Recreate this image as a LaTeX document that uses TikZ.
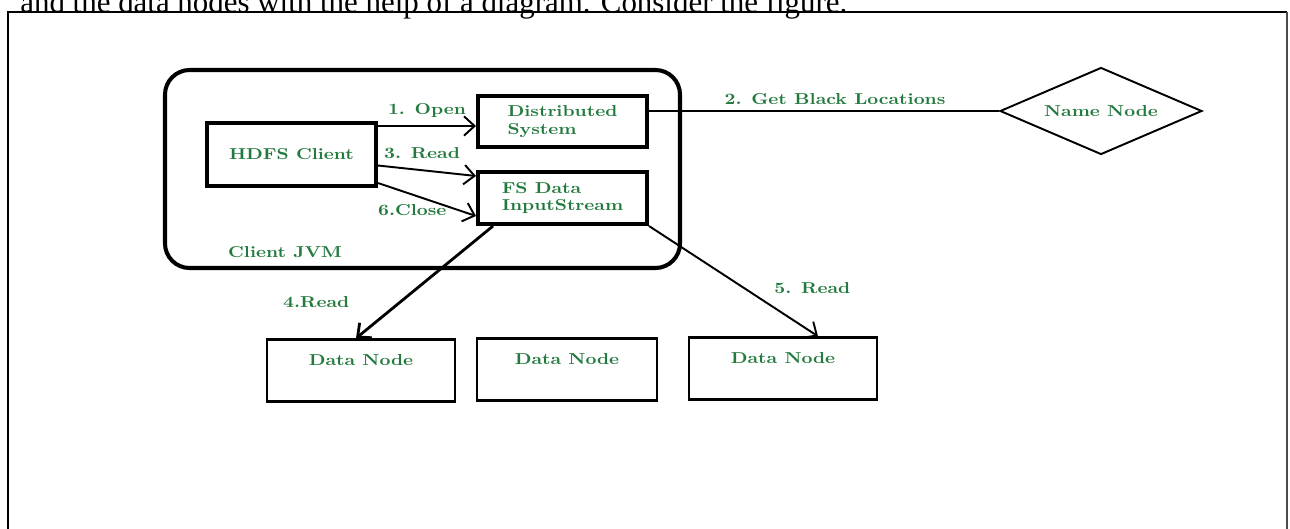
\documentclass[tikz,border=0pt]{standalone}
\usepackage{fontspec}
\setmainfont{Liberation Serif}
\newfontfamily\diafont[FakeStretch=1.2]{lmroman10-bold.otf}
\usepackage{tikz}
\usetikzlibrary{calc}
\usetikzlibrary{shapes.geometric}
\usetikzlibrary{arrows.meta}
\definecolor{labgreen}{RGB}{35,122,62}
\tikzset{
  lbl/.style={text=labgreen, font=\diafont\fontsize{9}{10}\selectfont, inner sep=1pt},
  thickbox/.style={draw, line width=2.3pt, lbl, align=left, minimum width=3.38cm},
  databox/.style={draw, line width=1.4pt, lbl, minimum height=1.24cm, text height=6pt, text depth=12pt},
  flow/.style={line width=1.1pt, -{Straight Barb[length=6pt,width=11pt]}},
}
\newcommand{\databox}[4]{\node[databox, minimum width=#4] (#1) at ( #2 , #3 ) {Data Node};}

\begin{document}
\begin{tikzpicture}[x=0.02cm, y=-0.02cm]
    \useasboundingbox (0,0) rectangle (1290,528);
    \clip (0,0) rectangle (1290,528);

    % page text and frame
    \node[anchor=base west, inner sep=0pt, font=\fontsize{17.6}{19}\selectfont] (intro) at (20,12)
        {and the data nodes with the help of a diagram. Consider the figure.};
    \draw[line width=0.8pt] (8,540) -- (8,12) -- (1287,12);
    \draw[line width=0.8pt, black!70] (1287,12) -- (1287,540);

    % client jvm
    \draw[line width=2.3pt, rounded corners=14pt] (165,70) rectangle (680,268);
    \node[lbl] (jvm) at (285,252) {Client JVM};

    \node[thickbox, minimum height=1.26cm] (hdfs) at (291.5,154.5) {HDFS Client};
    \node[thickbox, minimum height=1.02cm] (dfs) at (562.5,121.5) {Distributed\\System};
    \node[thickbox, minimum height=1.04cm] (fsd) at (562.5,198) {FS Data\\InputStream};

    % name node
    \node[draw, diamond, aspect=2.3, line width=1.1pt, lbl, inner sep=0pt,
          minimum width=4.04cm, minimum height=1.74cm] (name) at (1101,111) {Name Node};

    % data nodes
    \databox{dn1}{361}{370.5}{3.76cm}
    \databox{dn2}{567}{369.5}{3.6cm}
    \databox{dn3}{783}{368.5}{3.76cm}

    % client calls
    \draw[flow] ($(hdfs.north east)+(0,5)$) -- node[lbl, above=3pt] (open) {1. Open}
        ($(dfs.west |- hdfs.north east)+(0,5)$);
    \draw[flow] ($(hdfs.east)+(0,11)$) -- node[lbl, pos=0.45, above=5pt] (rd) {3. Read}
        ($(fsd.north west)+(0,6)$);
    \draw[flow] ($(hdfs.south east)+(0,-5)$) -- node[lbl, pos=0.35, below=4pt] (cls) {6.Close}
        ($(fsd.south west)+(0,-10)$);

    % block locations
    \draw[line width=1.1pt] (dfs.east |- name.west) -- node[lbl, above=2pt, xshift=0.22cm] (gbl) {2. Get Black Locations}
        (name.west);

    % reads from data nodes
    \draw[flow, line width=1.6pt] ($(fsd.south west)+(17,0)$) -- node[lbl, pos=0.68, left=27pt] (rd4) {4.Read}
        ($(dn1.north)+(-5,0)$);
    \draw[flow] (fsd.south east) -- node[lbl, pos=0.56, right=16pt] (rd5) {5. Read}
        ($(dn3.north)+(35,0)$);

\end{tikzpicture}
\end{document}
